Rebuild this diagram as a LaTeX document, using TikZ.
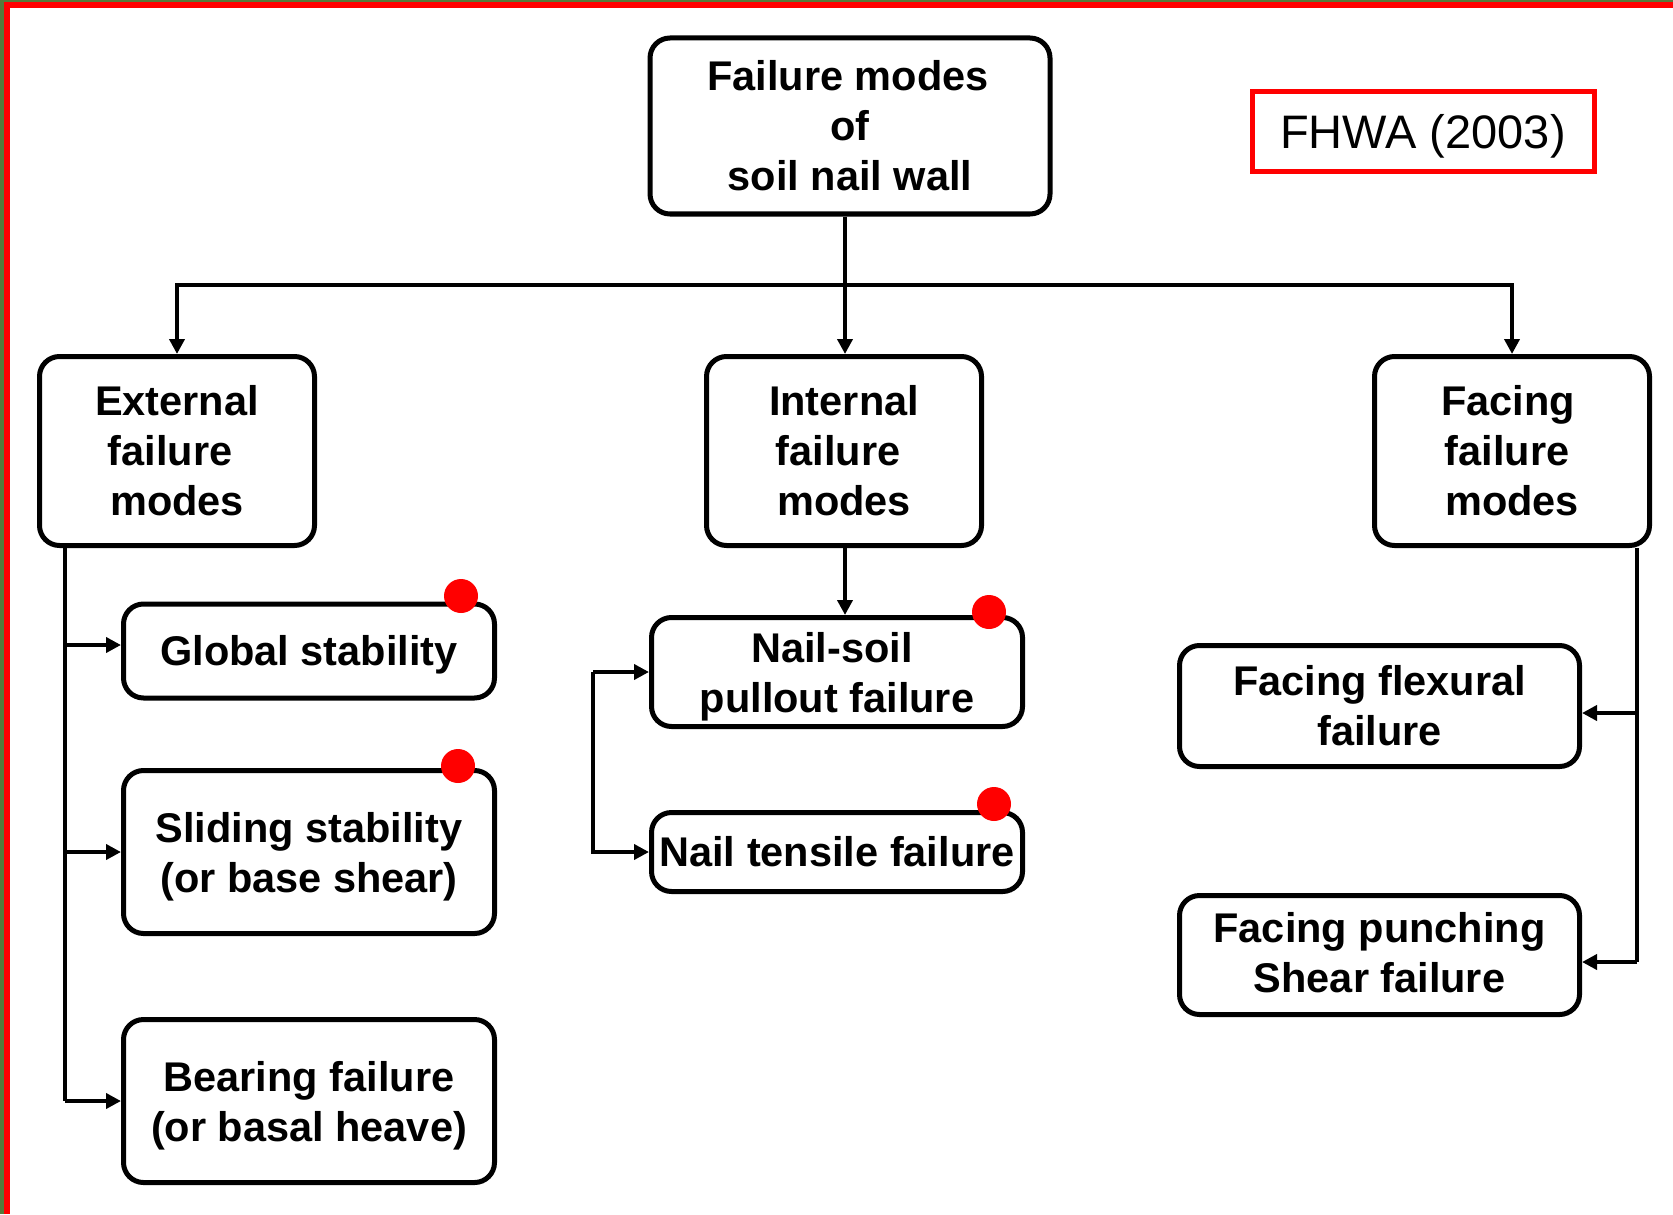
\documentclass[tikz,border=0pt]{standalone}
\usepackage{fontspec}
\setmainfont{Liberation Sans}
\usetikzlibrary{arrows.meta}
\definecolor{edgegreen}{RGB}{86,122,58}
\newcommand{\lowr}[2]{\raisebox{#1}[\height][\depth]{\begin{tabular}{@{}c@{}}#2\end{tabular}}}
\newcommand{\padr}[1]{\rule{#1}{0pt}}
\tikzset{
  box/.style={draw, line width=2.5pt, rounded corners=10pt, align=center, inner sep=0pt,
    font=\bfseries\fontsize{20.75}{25}\selectfont},
  arr/.style={line width=2pt, -{Triangle[length=7.5pt,width=7.5pt]}},
  ln/.style={line width=2pt},
  reddot/.style={circle, fill=red, minimum size=17pt, inner sep=0pt},
  srcbox/.style={draw=red, line width=2.5pt, inner sep=0pt, font=\fontsize{23.5}{27}\selectfont}
}
\begin{document}
\begin{tikzpicture}[x=0.5pt,y=-0.5pt]
\useasboundingbox (0,0) rectangle (1673,1214);
\fill[white] (0,0) rectangle (1673,1214);
% frame
\fill[edgegreen] (0,0) rectangle (4,1214);
\fill[edgegreen] (0,0) rectangle (1673,2);
\fill[red] (4,2) rectangle (10,1214);
\fill[red] (4,2) rectangle (1673,8);

% nodes
\node[box, minimum width=200pt, minimum height=88pt] (top) at (850,126) {Failure modes\padr{2pt}\\of\\soil nail wall};
\node[srcbox, minimum width=171pt, minimum height=40pt] (src) at (1423,132) {\lowr{-3pt}{FHWA (2003)}};

\node[box, minimum width=137.5pt, minimum height=94.5pt] (ext) at (177,451) {External\\failure\padr{7pt}\\modes};
\node[box, minimum width=137.5pt, minimum height=94.5pt] (int) at (844,451) {Internal\\failure\padr{6pt}\\modes};
\node[box, minimum width=137.5pt, minimum height=94.5pt] (fac) at (1512,451) {Facing\padr{4pt}\\failure\padr{5pt}\\modes};

\node[box, minimum width=185.5pt, minimum height=47pt] (glob) at (309,651) {\lowr{-2pt}{Global stability}};
\node[box, minimum width=185.5pt, minimum height=81.5pt] (slid) at (309,852) {\lowr{-2.5pt}{Sliding stability\\(or base shear)}};
\node[box, minimum width=185.5pt, minimum height=81.5pt] (bear) at (309,1101) {\lowr{-2.5pt}{Bearing failure\\(or basal heave)}};

\node[box, minimum width=185.5pt, minimum height=54.5pt] (nsoil) at (837,672) {\lowr{-2.5pt}{Nail-soil\padr{5pt}\\pullout failure}};
\node[box, minimum width=185.5pt, minimum height=39.5pt] (ntens) at (837,852) {Nail tensile failure};

\node[box, minimum width=200pt, minimum height=60.5pt] (fflex) at (1379.5,706) {Facing flexural\\failure};
\node[box, minimum width=200pt, minimum height=59.5pt] (fpunch) at (1379.5,955) {\lowr{-1pt}{Facing punching\\Shear failure}};

% top distribution
\coordinate (hub) at (845,285);
\draw[ln] (top.south -| hub) -- (hub);
\draw[arr] (hub) -| (ext.north);
\draw[arr] (hub) -| (fac.north);
\draw[arr] (hub) -- (hub |- int.north);

% external branch
\coordinate (e0) at (65,548);
\draw[ln] (e0) -- (e0 |- bear.west);
\draw[arr] ([yshift=3pt]glob.west -| e0) -- ([yshift=3pt]glob.west);
\draw[arr] (slid.west -| e0) -- (slid.west);
\draw[arr] (e0 |- bear.west) -- (bear.west);

% internal branch
\draw[arr] (int.south -| hub) -- (hub |- nsoil.north);
\coordinate (ib) at (593,672);
\draw[arr] (ib) -- (nsoil.west);
\draw[arr] (ib) |- (ntens.west);

% facing branch
\coordinate (f0) at (1637,548);
\draw[ln] (f0) -- ([yshift=-3.5pt]fpunch.east -| f0);
\draw[arr] ([yshift=-3.5pt]fflex.east -| f0) -- ([yshift=-3.5pt]fflex.east);
\draw[arr] ([yshift=-3.5pt]fpunch.east -| f0) -- ([yshift=-3.5pt]fpunch.east);

% red markers
\node[reddot] (d1) at (461,596) {};
\node[reddot] (d2) at (458,766) {};
\node[reddot] (d3) at (989,612) {};
\node[reddot] (d4) at (994,804) {};
\end{tikzpicture}
\end{document}
